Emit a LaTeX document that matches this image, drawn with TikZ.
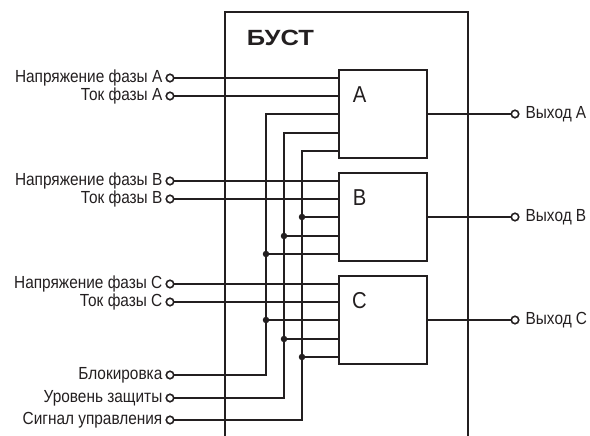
\documentclass[tikz,border=0pt]{standalone}
\usepackage{fontspec}
\setmainfont{Liberation Sans}
\newfontfamily\narrowfont[FakeStretch=0.88]{Liberation Sans}
\newfontfamily\widefont[FakeStretch=1.16]{Liberation Sans}
\usetikzlibrary{positioning}
\definecolor{ink}{HTML}{231F20}

\begin{document}
\begin{tikzpicture}[
	x=1pt,
	y=-1pt,
	ink,
	line width=1.8pt,
	node distance=3pt,
	wire/.style={draw, line width=1.8pt},
	unit/.style={draw, fill=white, minimum size=88pt, inner sep=0pt, outer sep=0pt},
	terminal/.style={circle, draw, fill=white, line width=1.6pt, minimum size=7.5pt, inner sep=0pt, outer sep=0pt},
	junction/.style={circle, fill=ink, minimum size=6.5pt, inner sep=0pt, outer sep=0pt},
	signal/.style={font=\narrowfont\fontsize{17.5}{18}\selectfont, inner sep=0pt},
	unitname/.style={font=\narrowfont\fontsize{23}{24}\selectfont, inner sep=0pt}
]

\useasboundingbox (0,0) rectangle (590,436);

% outer frame, open at the bottom
\coordinate (f_1) at (225,436);
\coordinate (f_2) at (225,12);
\coordinate (f_3) at (468,12);
\coordinate (f_4) at (468,436);
\draw (f_1) -- (f_2) -- (f_3) -- (f_4);
\node [font=\widefont\bfseries\fontsize{22}{23}\selectfont, anchor=west, inner sep=0pt] (title) at (246,38) {БУСТ};

% units
\node [unit] (box_a) at (383,114) {};
\node [unit] (box_b) at (383,217) {};
\node [unit] (box_c) at (383,320) {};
\node [unitname] (name_a) at (359.5,95)  {A};
\node [unitname] (name_b) at (359.5,198) {B};
\node [unitname] (name_c) at (359.5,301) {C};

% pins on the west side of each unit
\foreach \u in {a,b,c}
	\foreach \p/\o in {1/36, 2/18, 3/0, 4/-19, 5/-37}
		\coordinate (\u_\p) at ([yshift=\o pt]box_\u.west);

% common lines
\coordinate (bus_1) at (266,0);
\coordinate (bus_2) at (284,0);
\coordinate (bus_3) at (302,0);

% inputs
\node [terminal] (t_a1) at (170,78)  {};
\node [terminal] (t_a2) at (170,96)  {};
\node [terminal] (t_b1) at (170,181) {};
\node [terminal] (t_b2) at (170,199) {};
\node [terminal] (t_c1) at (170,284) {};
\node [terminal] (t_c2) at (170,302) {};
\node [terminal] (t_block) at (170,375) {};
\node [terminal] (t_level) at (170,398) {};
\node [terminal] (t_ctrl)  at (170,420) {};

\node [signal, left=of t_a1] (l_a1) {Напряжение фазы A};
\node [signal, left=of t_a2] (l_a2) {Ток фазы A};
\node [signal, left=of t_b1] (l_b1) {Напряжение фазы B};
\node [signal, left=of t_b2] (l_b2) {Ток фазы B};
\node [signal, left=of t_c1] (l_c1) {Напряжение фазы C};
\node [signal, left=of t_c2] (l_c2) {Ток фазы C};
\node [signal, left=of t_block] (l_block) {Блокировка};
\node [signal, left=of t_level] (l_level) {Уровень защиты};
\node [signal, left=of t_ctrl]  (l_ctrl)  {Сигнал управления};

% outputs
\node [terminal] (o_a) at (515,114) {};
\node [terminal] (o_b) at (515,217) {};
\node [terminal] (o_c) at (515,320) {};
\node [signal, right=6pt of o_a] (l_oa) {Выход A};
\node [signal, right=6pt of o_b] (l_ob) {Выход B};
\node [signal, right=6pt of o_c] (l_oc) {Выход C};

\path [wire] (t_a1) -- (a_1)
             (t_a2) -- (a_2)
             (t_b1) -- (b_1)
             (t_b2) -- (b_2)
             (t_c1) -- (c_1)
             (t_c2) -- (c_2)
             (t_block) -| (bus_1 |- a_3) -- (a_3)
             (t_level) -| (bus_2 |- a_4) -- (a_4)
             (t_ctrl)  -| (bus_3 |- a_5) -- (a_5)
             (box_a.east) -- (o_a)
             (box_b.east) -- (o_b)
             (box_c.east) -- (o_c);

% branches
\node [junction] (j_b3) at (bus_3 |- b_3) {};
\node [junction] (j_b4) at (bus_2 |- b_4) {};
\node [junction] (j_b5) at (bus_1 |- b_5) {};
\node [junction] (j_c3) at (bus_1 |- c_3) {};
\node [junction] (j_c4) at (bus_2 |- c_4) {};
\node [junction] (j_c5) at (bus_3 |- c_5) {};

\path [wire] (j_b3) -- (b_3)
             (j_b4) -- (b_4)
             (j_b5) -- (b_5)
             (j_c3) -- (c_3)
             (j_c4) -- (c_4)
             (j_c5) -- (c_5);

\end{tikzpicture}
\end{document}
